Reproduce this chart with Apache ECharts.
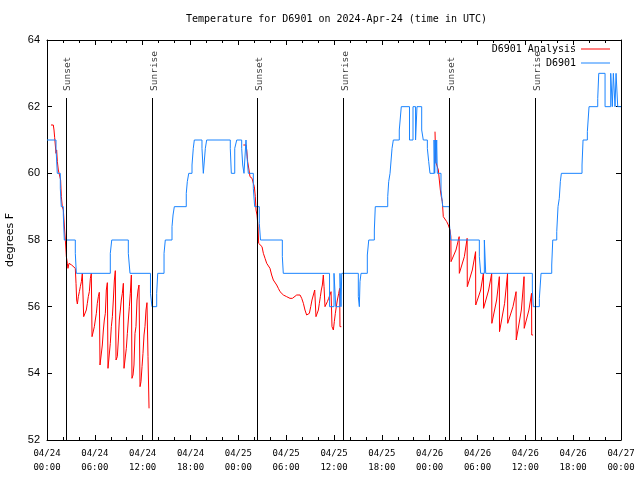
<!DOCTYPE html>
<html><head><meta charset="utf-8">
<script src="https://cdn.jsdelivr.net/npm/echarts@6/dist/echarts.min.js"></script>
<style>html,body{margin:0;padding:0;background:#fff}#c{width:640px;height:480px}</style>
</head><body><div id="c"></div>
<script>
// ---- text ----
const titleText = 'Temperature for D6901 on 2024-Apr-24 (time in UTC)';
const yAxisTitle = 'degrees F';
const xTickLabels = ['04/24\n00:00','04/24\n06:00','04/24\n12:00','04/24\n18:00','04/25\n00:00','04/25\n06:00','04/25\n12:00','04/25\n18:00','04/26\n00:00','04/26\n06:00','04/26\n12:00','04/26\n18:00','04/27\n00:00'];
const obsName = 'D6901';
const anaName = 'D6901 Analysis';
// time in hours since 2024-04-24 00:00 UTC, value in degrees F
const obsData = [[0,61],[1.13,60.75],[1.29,60],[1.67,59.55],[1.79,59],[2.05,58.75],[2.17,58],[3.55,57.6],[3.68,57],[7.94,57.6],[8.12,58],[10.2,57.6],[10.41,57],[12.98,56.4],[13.17,56],[13.76,56.4],[13.89,57],[14.68,57.6],[14.84,58],[15.68,58.4],[15.81,58.75],[15.97,59],[17.47,59.4],[17.6,59.75],[17.78,60],[18.19,60.25],[18.35,60.75],[18.48,61],[19.44,60.75],[19.61,60],[19.86,60.75],[20.03,61],[22.99,60.75],[23.12,60],[23.55,60.75],[23.8,61],[24.42,60.75],[24.55,60.25],[24.71,60],[24.96,61],[25.09,60.5],[25.25,60],[25.88,59.55],[26.05,59],[26.63,58.5],[26.78,58],[29.52,57.5],[29.64,57],[35.44,56],[36.0,57],[36.22,56],[36.75,57],[36.88,56],[36.97,57],[39.05,56.3],[39.18,56],[39.26,56.75],[39.39,57],[40.18,57.55],[40.36,58],[41.06,58.3],[41.18,59],[42.74,59.3],[42.86,59.75],[43.03,60],[43.28,60.75],[43.44,61],[44.19,61.3],[44.44,62],[45.47,61],[45.91,62],[46.23,61],[46.41,62],[47.0,61.3],[47.2,61],[47.71,60.75],[47.88,60.35],[48.04,60],[48.55,61],[48.63,60],[48.71,61],[48.8,60.3],[48.88,61],[48.96,60],[49.42,59.5],[49.64,59],[50.47,58.5],[50.64,58],[54.23,57.5],[54.4,57],[54.86,58],[55.03,57],[60.88,56.5],[61.0,56],[61.76,56.25],[61.97,57],[63.31,57.25],[63.44,58],[63.94,58.25],[64.1,59],[64.26,59.25],[64.39,59.75],[64.52,60],[67.11,60.25],[67.24,61],[67.78,61.25],[67.99,62],[69.08,62.25],[69.21,63],[70.0,62],[70.71,63],[70.91,62],[71.04,63],[71.25,62],[71.38,63],[71.59,62],[72,62]];
const anaNight1 = [[0.5,61.45],[0.79,61.45],[0.88,61.3],[0.96,61.08],[1.09,61.08],[1.13,60.6],[1.21,60.7],[1.3,60.35],[1.42,60.1],[1.55,60.05],[1.71,59.8],[1.8,59.3],[1.92,59.0],[2.05,58.9],[2.17,58.45],[2.3,58.0],[2.43,57.5],[2.55,57.3],[2.63,57.15],[2.76,57.3],[3.09,57.25],[3.3,57.2],[3.55,57.15],[3.64,56.7],[3.72,56.2],[3.81,56.08],[3.93,56.3],[4.06,56.45],[4.18,56.6],[4.31,56.75],[4.43,57.0],[4.56,56.95],[4.6,55.7],[4.81,55.65],[4.93,55.9],[5.06,56.1],[5.18,56.3],[5.31,56.45],[5.44,56.85],[5.56,57.0],[5.65,55.1],[5.81,55.05],[5.94,55.4],[6.06,55.6],[6.19,55.8],[6.31,56.1],[6.44,56.3],[6.56,56.43],[6.65,54.25],[6.82,54.3],[6.94,54.85],[7.07,55.3],[7.19,55.6],[7.32,55.8],[7.44,56.5],[7.57,56.72],[7.65,54.15],[7.82,54.2],[7.94,54.9],[8.07,55.4],[8.2,55.7],[8.32,56.2],[8.45,56.8],[8.57,57.08],[8.66,54.4],[8.82,54.5],[8.95,55.0],[9.07,55.6],[9.2,55.9],[9.32,56.2],[9.45,56.4],[9.58,56.7],[9.66,54.15],[9.83,54.15],[9.95,54.75],[10.08,55.2],[10.2,55.6],[10.33,56.0],[10.45,56.4],[10.58,56.95],[10.66,53.85],[10.79,53.95],[10.91,54.25],[11.04,55.2],[11.16,55.4],[11.29,56.2],[11.42,56.5],[11.54,56.65],[11.67,53.6],[11.79,53.75],[11.92,54.2],[12.04,54.6],[12.17,55.15],[12.29,55.4],[12.42,55.9],[12.54,56.12],[12.67,54.5],[12.8,52.95]];
const anaNight2 = [[24.63,60.85],[24.96,60.85],[25.05,60.7],[25.17,60.35],[25.34,60.1],[25.46,59.9],[25.72,59.85],[25.88,59.7],[26.01,59.6],[26.13,59.3],[26.22,58.9],[26.34,58.75],[26.47,58.4],[26.55,57.9],[26.72,57.9],[26.97,57.8],[27.14,57.6],[27.35,57.45],[27.56,57.3],[27.76,57.3],[27.97,57.15],[28.18,56.95],[28.39,56.8],[28.64,56.75],[28.81,56.65],[29.02,56.55],[29.23,56.45],[29.44,56.4],[29.65,56.35],[30.06,56.3],[30.48,56.25],[30.78,56.25],[31.03,56.3],[31.32,56.35],[31.74,56.35],[31.95,56.25],[32.16,56.1],[32.36,55.9],[32.57,55.75],[32.78,55.75],[32.91,55.8],[33.08,56.0],[33.24,56.2],[33.41,56.35],[33.58,56.5],[33.66,56.55],[33.74,55.7],[33.91,55.7],[34.04,55.9],[34.16,56.1],[34.29,56.3],[34.41,56.5],[34.54,56.65],[34.66,56.95],[34.75,56.6],[34.87,56.0],[35.0,56.0],[35.17,56.15],[35.33,56.25],[35.5,56.3],[35.63,56.45],[35.75,55.4],[35.92,55.3],[36.04,55.55],[36.17,55.8],[36.29,56.0],[36.42,56.2],[36.59,56.4],[36.71,56.55],[36.75,55.4],[36.92,55.4]];
const anaNight3 = [[48.67,61.25],[48.76,60.35],[48.96,60.35],[49.09,60.1],[49.21,59.8],[49.34,59.5],[49.46,59.3],[49.59,59.15],[49.71,58.7],[49.93,58.65],[50.14,58.55],[50.34,58.45],[50.55,58.3],[50.66,58.1],[50.68,57.35],[50.9,57.35],[51.3,57.7],[51.7,58.1],[51.72,57.0],[51.95,57.0],[52.35,57.5],[52.7,58.05],[52.72,56.6],[52.95,56.6],[53.35,57.1],[53.76,57.65],[53.78,56.05],[54.0,56.05],[54.4,56.5],[54.74,57.0],[54.76,55.95],[54.98,55.95],[55.4,56.5],[55.78,57.0],[55.8,55.5],[56.02,55.5],[56.4,56.2],[56.74,56.9],[56.76,55.25],[56.98,55.25],[57.4,56.1],[57.77,57.0],[57.79,55.5],[58.01,55.5],[58.45,56.0],[58.84,56.45],[58.86,55.0],[59.08,55.0],[59.5,55.9],[59.84,56.9],[59.86,55.35],[60.08,55.35],[60.45,55.9],[60.78,56.4],[60.8,55.15],[60.97,55.15]];
const sunEventTimes = [2.38, 13.21, 26.38, 37.17, 50.46, 61.25];
const sunEventLabels = ['Sunset','Sunrise','Sunset','Sunrise','Sunset','Sunrise'];

const MONO = 'DejaVu Sans Mono';
const chart = echarts.init(document.getElementById('c'), null, {renderer:'canvas'});
const axisCommon = {
  type:'value', axisLine:{show:true, onZero:false, lineStyle:{color:'#000', width:1}},
  splitLine:{show:false}
};
const xBase = Object.assign({}, axisCommon, {min:0, max:72, interval:6,
  axisTick:{show:true, inside:true, length:5, lineStyle:{color:'#000'}},
  minorTick:{show:true, splitNumber:3, length:3, lineStyle:{color:'#000'}}});
const yBase = Object.assign({}, axisCommon, {min:52, max:64, interval:2,
  axisTick:{show:true, inside:true, length:5, lineStyle:{color:'#000'}}});
const anaStyle = {type:'line', name:anaName, showSymbol:false, symbol:'none', color:'#ff0000',
  lineStyle:{color:'#ff0000', width:1}, z:2, animation:false, silent:true};

chart.setOption({
  animation:false,
  backgroundColor:'#fff',
  title:{text:titleText, left:181, top:9, textStyle:{fontFamily:MONO, fontSize:10, fontWeight:'normal', color:'#000'}},
  legend:{data:[anaName, obsName], orient:'vertical', right:30, top:42, align:'right', padding:0,
    itemGap:0, itemWidth:29, itemHeight:1, icon:'rect',
    textStyle:{fontFamily:MONO, fontSize:10, color:'#000', lineHeight:14}},
  grid:{left:47, right:19, top:40, bottom:40, containLabel:false, outerBoundsMode:'none'},
  xAxis:[
    Object.assign({}, xBase, {position:'bottom',
      axisLabel:{show:true, margin:7, fontFamily:MONO, fontSize:9, color:'#000', lineHeight:14,
        formatter:v=>xTickLabels[Math.round(v/6)]}}),
    Object.assign({}, xBase, {position:'top', axisLabel:{show:false}})
  ],
  yAxis:[
    Object.assign({}, yBase, {position:'left', name:yAxisTitle, nameLocation:'middle', nameGap:31, nameRotate:90,
      nameTextStyle:{fontFamily:'DejaVu Sans', fontSize:11, color:'#000'},
      axisLabel:{show:true, margin:7, fontFamily:'Liberation Sans', fontSize:11, color:'#000'}}),
    Object.assign({}, yBase, {position:'right', axisLabel:{show:false}})
  ],
  series:[
    Object.assign({data:anaNight1}, anaStyle),
    Object.assign({data:anaNight2}, anaStyle),
    Object.assign({data:anaNight3}, anaStyle),
    {type:'line', name:obsName, data:obsData, step:'end', showSymbol:false, symbol:'none', color:'#1a84ff',
      lineStyle:{color:'#1a84ff', width:1}, z:3, silent:true},
    {type:'scatter', name:'sun', symbolSize:0, silent:true, z:4,
      data:sunEventTimes.map((t,i)=>[t, 62.47, sunEventLabels[i]]),
      label:{show:true, position:'inside', rotate:90, align:'left', verticalAlign:'middle', offset:[0,2],
        formatter:p=>p.data[2], fontFamily:MONO, fontSize:9.5, color:'#000'},
      markLine:{silent:true, symbol:'none', label:{show:false}, animation:false,
        lineStyle:{color:'#000', width:1, type:'solid'},
        data:sunEventTimes.map(t=>[{coord:[t,52]},{coord:[t,62.26]}])}}
  ]
});
</script></body></html>
